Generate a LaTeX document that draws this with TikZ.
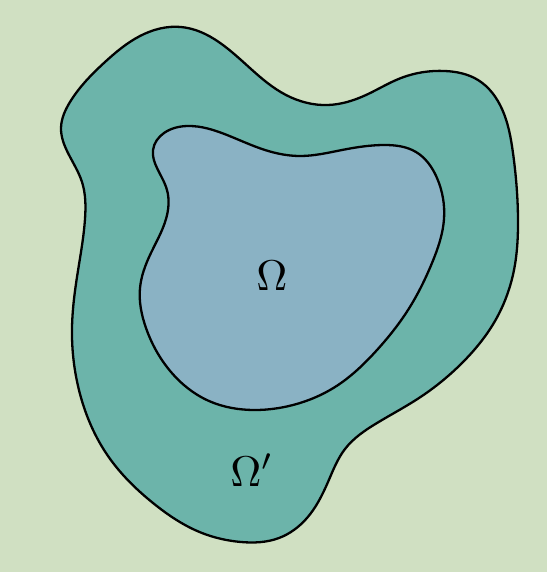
\documentclass[tikz,border=0pt]{standalone}
\usepackage{amsmath, amssymb}
\usepackage{xcolor}
\usepackage{tikz}
\usetikzlibrary{hobby}

\definecolor{bgsage}{RGB}{208,224,194}
\definecolor{outerteal}{RGB}{108,180,170}
\definecolor{innerblue}{RGB}{138,178,196}

\begin{document}
\begin{tikzpicture}[x=1pt,y=-1pt,
        region/.style={draw=black,line width=2.3pt,line join=round},
        domlabel/.style={scale=4.3,inner sep=0pt}]
        \fill[bgsage] (0,0) rectangle (547,572);
        \useasboundingbox (0,0) rectangle (547,572);
        % outer domain
        \filldraw[region,fill=outerteal] plot[closed hobby] coordinates {
            (181,27) (251,69) (286,95) (328,105) (366,95) (401,78) (445,71)
            (478,80) (502,109) (513,153) (518,219) (514,270) (495,321) (464,361)
            (419,398) (377,423) (345,449) (328,482) (307,518) (279,538) (241,542)
            (202,533) (153,503) (108,456) (80,394) (72,328) (77,277) (85,219)
            (82,182) (68,153) (61,128) (70,102) (105,62) (140,36)};
        % inner domain
        \filldraw[region,fill=innerblue] plot[closed hobby] coordinates {
            (188,126) (227,135) (265,150) (300,156) (342,150) (384,145) (416,152)
            (437,178) (444,219) (432,263) (408,310) (377,350) (335,387) (293,405)
            (255,410) (209,401) (171,372) (146,328) (140,288) (150,255) (166,219)
            (167,190) (157,168) (153,150) (164,133)};
        \node[domlabel] (omega) at (272,276) {$\Omega$};
        \node[domlabel] (omegaprime) at (252,470) {$\Omega'$};
\end{tikzpicture}
\end{document}
